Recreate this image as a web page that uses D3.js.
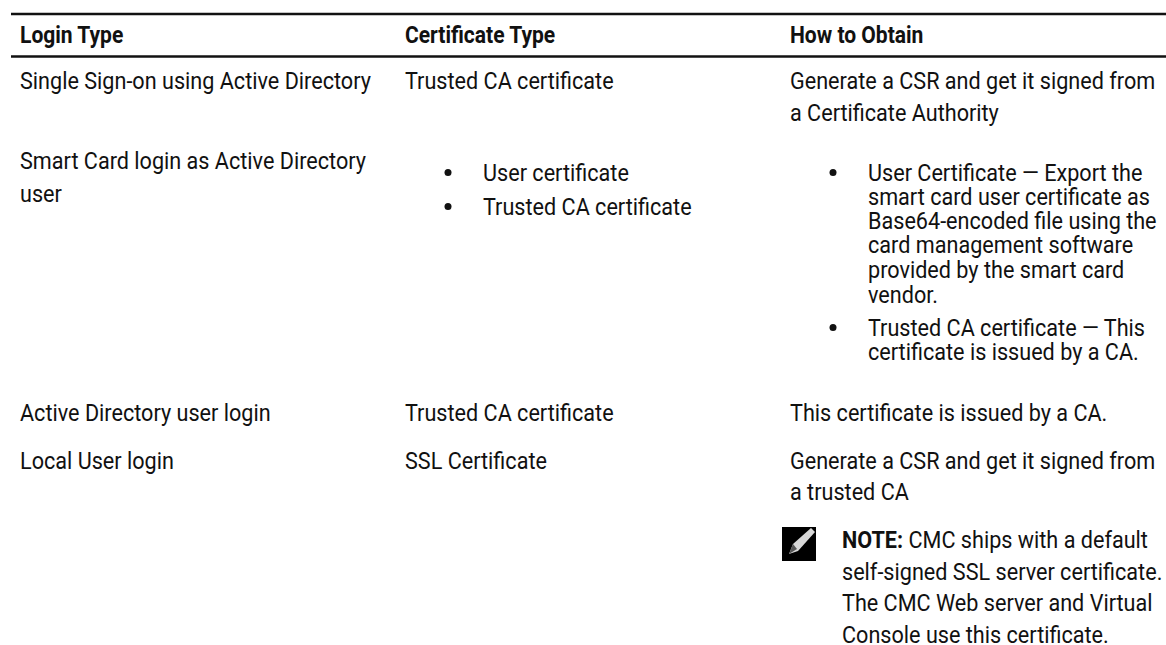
<!DOCTYPE html>
<html><head><meta charset="utf-8">
<script src="https://cdn.jsdelivr.net/npm/d3@7/dist/d3.min.js"></script>
<style>html,body{margin:0;background:#fff}svg{display:block}
text{font-family:Roboto,"Liberation Sans",sans-serif;fill:#111}</style>
</head><body><div id="c"></div>
<script>
const headers = ["Login Type","Certificate Type","How to Obtain"];
const loginLines = [
 {row:"r0",t:"Single Sign-on using Active Directory"},
 {row:"r1",t:"Smart Card login as Active Directory"},
 {row:"r1b",t:"user"},
 {row:"r2",t:"Active Directory user login"},
 {row:"r3",t:"Local User login"}];
const certLines = [
 {row:"r0",t:"Trusted CA certificate"},
 {row:"c1",t:"User certificate",b:1},
 {row:"c2",t:"Trusted CA certificate",b:1},
 {row:"r2",t:"Trusted CA certificate"},
 {row:"r3",t:"SSL Certificate"}];
const obtainLines = [
 {row:"r0",t:"Generate a CSR and get it signed from"},
 {row:"r0b",t:"a Certificate Authority"},
 {row:"r2",t:"This certificate is issued by a CA."},
 {row:"r3",t:"Generate a CSR and get it signed from"},
 {row:"r3b",t:"a trusted CA"}];
const bulletLines = [
 {row:"b0",t:"User Certificate — Export the",b:1},{row:"b1",t:"smart card user certificate as"},{row:"b2",t:"Base64-encoded file using the"},
 {row:"b3",t:"card management software"},{row:"b4",t:"provided by the smart card"},{row:"b5",t:"vendor."},
 {row:"b6",t:"Trusted CA certificate — This",b:1},{row:"b7",t:"certificate is issued by a CA."}];
const noteLines = ["CMC ships with a default","self-signed SSL server certificate.","The CMC Web server and Virtual","Console use this certificate."];
const noteLabel = "NOTE:";

const W=1166,H=645;
const svg=d3.select("#c").append("svg").attr("width",W).attr("height",H);
const x={login:20,cert:405,obtain:790,bCert:483,bObtain:868,note:842};
const rowY={r0:89,r0b:120.5,r1:169,r1b:202,c1:180.5,c2:214.5,r2:420.5,r3:468.5,r3b:500,
 b0:180.5,b1:204.5,b2:228.5,b3:252.5,b4:277.5,b5:302.5,b6:335.5,b7:359.5};
const size=23, sx=0.94, hx=0.915;
function put(sel,xp,y,s){return sel.attr("transform",`translate(${xp},${y}) scale(${s||sx},1)`);}
svg.selectAll("line.r").data([14,56.5]).join("line").attr("x1",11).attr("x2",W).attr("y1",d=>d).attr("y2",d=>d).attr("stroke","#111").attr("stroke-width",2.5);
headers.forEach((h,i)=>put(svg.append("text"),[x.login,x.cert,x.obtain][i],43,hx).attr("font-size",size).attr("font-weight",700).text(h));
function dot(xb,y){svg.append("circle").attr("cx",xb-35).attr("cy",y-8).attr("r",3.5).attr("fill","#111");}
function col(lines,xp,xb){
 lines.forEach(l=>{
  put(svg.append("text"),l.b?xb:xp,rowY[l.row]).attr("font-size",size).text(l.t);
  if(l.b) dot(xb,rowY[l.row]);
 });
}
col(loginLines,x.login);col(certLines,x.cert,x.bCert);col(obtainLines,x.obtain);col(bulletLines,x.bObtain,x.bObtain);
const ny=d3.scaleLinear().domain([0,1]).range([548,579.5]);
noteLines.forEach((t,i)=>{
 const e=put(svg.append("text"),x.note,ny(i)).attr("font-size",size);
 if(i==0) e.append("tspan").attr("font-weight",700).text(noteLabel+" ");
 e.append("tspan").text(t);
});
const g=svg.append("g");
g.append("rect").attr("x",782).attr("y",527).attr("width",34).attr("height",34).attr("fill","#000");
g.append("path").attr("d","M789 554 L793 544 L811 528 L815 532 L798 551 Z").attr("fill","#d8d8d8");
g.append("path").attr("d","M789 554 L793 544 L797 549 Z").attr("fill","#555");
</script></body></html>
